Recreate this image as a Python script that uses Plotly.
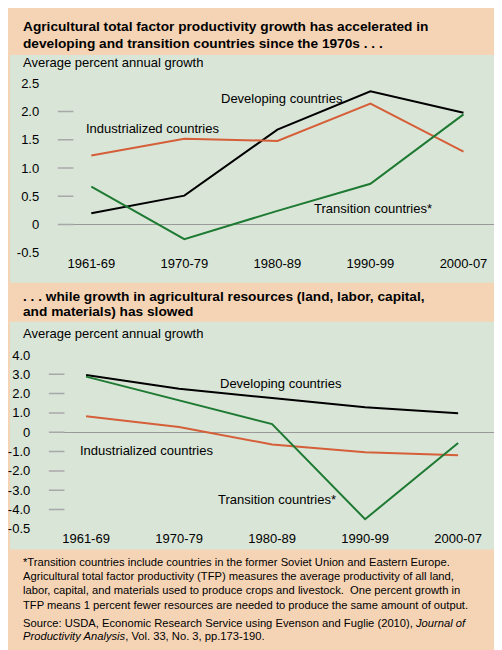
import plotly.graph_objects as go

W, H = 502, 650

periods = ["1961-69", "1970-79", "1980-89", "1990-99", "2000-07"]

# top panel: total factor productivity growth
tfp_developing = [0.20, 0.51, 1.68, 2.36, 1.98]
tfp_industrialized = [1.22, 1.52, 1.48, 2.14, 1.29]
tfp_transition = [0.67, -0.26, 0.24, 0.72, 1.95]
top_ticks = [-0.5, 0, 0.5, 1.0, 1.5, 2.0, 2.5]
top_ticktext = ["-0.5", "0", "0.5", "1.0", "1.5", "2.0", "2.5"]

# bottom panel: growth in agricultural resources
res_developing = [2.96, 2.25, 1.77, 1.29, 0.98]
res_industrialized = [0.83, 0.27, -0.63, -1.04, -1.19]
res_transition = [2.88, 1.67, 0.42, -4.50, -0.56]
bot_ticks = [-5, -4, -3, -2, -1, 0, 1, 2, 3, 4]
bot_ticktext = ["-0.5", "-4.0", "-3.0", "-2.0", "-1.0", "0", "1.0", "2.0", "3.0", "4.0"]

PEACH = "#f5d4b6"
GREEN_BG = "#d9e5d7"
BLACK = "#000000"
ORANGE = "#d55f38"
GREEN = "#1e7a32"
TICK_GREY = "#a8a8a8"
FONT = "Liberation Sans"

TOP_XR = [-0.36, 4.35]
BOT_XR = [-0.40, 4.44]

def px(x):
    return x / W

def py(y):
    return 1 - y / H

xs = list(range(len(periods)))
fig = go.Figure()

# short grey tick marks inside the plot, at the left edge (about 13 px long)
for ticks, xr, xa, ya in [(top_ticks[1:-1], TOP_XR, "x", "y"), (bot_ticks[1:-1], BOT_XR, "x2", "y2")]:
    fig.add_trace(go.Scatter(x=[xr[0] + 0.07] * len(ticks), y=ticks, mode="markers",
                             marker=dict(symbol="line-ew-open", size=13, color=TICK_GREY,
                                         line=dict(color=TICK_GREY, width=1.5)),
                             xaxis=xa, yaxis=ya, showlegend=False, hoverinfo="skip"))

for series, color in [(tfp_developing, BLACK), (tfp_industrialized, ORANGE), (tfp_transition, GREEN)]:
    fig.add_trace(go.Scatter(x=xs, y=series, mode="lines", line=dict(color=color, width=2),
                             xaxis="x", yaxis="y", showlegend=False, hoverinfo="skip"))
for series, color in [(res_developing, BLACK), (res_industrialized, ORANGE), (res_transition, GREEN)]:
    fig.add_trace(go.Scatter(x=xs, y=series, mode="lines", line=dict(color=color, width=2),
                             xaxis="x2", yaxis="y2", showlegend=False, hoverinfo="skip"))

axis_font = dict(family=FONT, size=13, color="black")
common_y = dict(showgrid=False, zeroline=True, zerolinecolor="#999999", zerolinewidth=1,
                ticks="outside", ticklen=15, tickcolor="rgba(0,0,0,0)", tickfont=axis_font,
                showline=False, fixedrange=True)
common_x = dict(showgrid=False, zeroline=False, tickvals=xs, ticktext=periods, ticks="",
                tickfont=axis_font, showline=False, fixedrange=True)

fig.update_layout(
    width=W, height=H,
    margin=dict(l=0, r=0, t=0, b=0),
    paper_bgcolor=PEACH, plot_bgcolor="white",
    xaxis=dict(common_x, domain=[px(48), px(488)], range=TOP_XR, anchor="y"),
    yaxis=dict(common_y, domain=[py(245), py(70)], range=[-0.53, 2.5],
               tickvals=top_ticks, ticktext=top_ticktext, anchor="x"),
    xaxis2=dict(common_x, domain=[px(39), px(491)], range=BOT_XR, anchor="y2"),
    yaxis2=dict(common_y, domain=[py(526), py(348)], range=[-5, 4],
                tickvals=bot_ticks, ticktext=bot_ticktext, anchor="x2"),
)

fig.add_shape(type="rect", xref="paper", yref="paper", x0=0, x1=1, y0=py(274), y1=py(41),
              fillcolor=GREEN_BG, line_width=0, layer="below")
fig.add_shape(type="rect", xref="paper", yref="paper", x0=0, x1=1, y0=py(547), y1=py(314),
              fillcolor=GREEN_BG, line_width=0, layer="below")

def note(text, x, y, size=13, xanchor="left", bold=False):
    if bold:
        text = "<b>" + text + "</b>"
    fig.add_annotation(text=text, x=px(x), y=py(y), xref="paper", yref="paper",
                       xanchor=xanchor, yanchor="middle", showarrow=False,
                       font=dict(family=FONT, size=size, color="black"))

note("Agricultural total factor productivity growth has accelerated in", 11, 12, 13.7, bold=True)
note("developing and transition countries since the 1970s . . .", 11, 29, 13.7, bold=True)
note("Average percent annual growth", 11, 49)
note("Developing countries", 273, 85, xanchor="center")
note("Industrialized countries", 143, 116, xanchor="center")
note("Transition countries*", 364, 198, xanchor="center")

note(". . . while growth in agricultural resources (land, labor, capital,", 11, 288, 13.7, bold=True)
note("and materials) has slowed", 11, 304, 13.7, bold=True)
note("Average percent annual growth", 11, 326)
note("Developing countries", 272, 377, xanchor="center")
note("Industrialized countries", 137, 446, xanchor="center")
note("Transition countries*", 268, 496, xanchor="center")

foot = [
    "*Transition countries include countries in the former Soviet Union and Eastern Europe.",
    "Agricultural total factor productivity (TFP) measures the average productivity of all land,",
    "labor, capital, and materials used to produce crops and livestock.  One percent growth in",
    "TFP means 1 percent fewer resources are needed to produce the same amount of output.",
]
for i, line in enumerate(foot):
    note(line, 11, 560 + 14.5 * i, 11.2)
note("Source: USDA, Economic Research Service using Evenson and Fuglie (2010), <i>Journal of</i>", 11, 622, 11.2)
note("<i>Productivity Analysis</i>, Vol. 33, No. 3, pp.173-190.", 11, 636, 11.2)

fig.write_html("out.html")
